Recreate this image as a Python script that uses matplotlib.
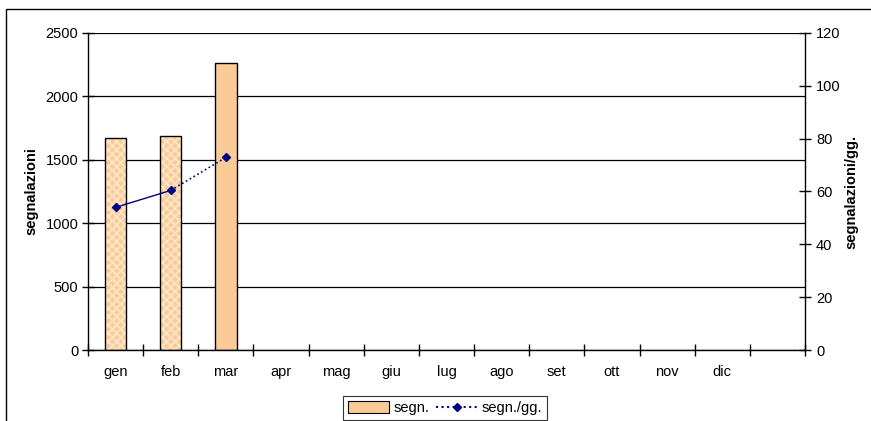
import matplotlib
matplotlib.use("Agg")
import matplotlib.pyplot as plt
from matplotlib.lines import Line2D
from matplotlib.patches import Patch, Rectangle

plt.rcParams['font.family'] = ['Liberation Sans', 'DejaVu Sans']
plt.rcParams['hatch.linewidth'] = 1.2

months = ['gen', 'feb', 'mar', 'apr', 'mag', 'giu', 'lug', 'ago', 'set', 'ott', 'nov', 'dic']
segnalazioni = [1675, 1690, 2260]
segn_per_giorno = [54.0, 60.4, 72.9]
hatched_months = 2  # first months drawn with the cross pattern

bar_color = '#FBCB97'
pattern_color = '#FFE6CC'
line_color = '#000080'
fs = 10.5

fig = plt.figure(figsize=(8.71, 4.21), dpi=100)
ax = fig.add_axes([88 / 871, 1 - 350 / 421, (805 - 88) / 871, (350 - 33) / 421])
ax2 = ax.twinx()

n_slots = len(months) + 1
xs = [i + 0.5 for i in range(len(segnalazioni))]
bw = 0.39

# bars: pattern fill first, then outline on top
for i, (x, v) in enumerate(zip(xs, segnalazioni)):
    if i < hatched_months:
        ax.bar(x, v, width=bw, color=bar_color, edgecolor=pattern_color, hatch='xxxx',
               linewidth=0, zorder=2)
    else:
        ax.bar(x, v, width=bw, color=bar_color, linewidth=0, zorder=2)
    ax.bar(x, v, width=bw, fill=False, edgecolor='black', linewidth=1.0, zorder=3)

ax.set_xlim(0, n_slots)
ax.set_ylim(0, 2500)
ax.set_yticks(range(0, 2501, 500))
ax.set_xticks(range(0, n_slots + 1))
ax.set_xticklabels([])
ax.set_xticks([i + 0.5 for i in range(len(months))], minor=True)
ax.set_xticklabels(months, minor=True)
ax.tick_params(axis='x', which='minor', length=0, pad=11, labelsize=fs)
ax.tick_params(axis='x', which='major', direction='inout', length=8, width=1)
ax.tick_params(axis='y', direction='inout', length=8, width=1, labelsize=fs, pad=3)
ax.grid(axis='y', color='black', linewidth=0.9, zorder=0)
ax.set_axisbelow(True)
for s in ['top', 'right']:
    ax.spines[s].set_visible(False)
ax.spines['left'].set_linewidth(1.0)
ax.spines['bottom'].set_linewidth(1.0)
ax.set_ylabel('segnalazioni', fontsize=fs, fontweight='bold', labelpad=5)

ax2.set_ylim(0, 120)
ax2.set_yticks(range(0, 121, 20))
ax2.tick_params(axis='y', direction='inout', length=8, width=1, labelsize=fs, pad=4)
for s in ['top', 'left', 'bottom']:
    ax2.spines[s].set_visible(False)
ax2.spines['right'].set_linewidth(1.0)
ax2.set_ylabel('segnalazioni/gg.', fontsize=fs, fontweight='bold', labelpad=3)

ax2.plot(xs[:2], segn_per_giorno[:2], '-', color=line_color, linewidth=1.0, zorder=4)
ax2.plot(xs[1:3], segn_per_giorno[1:3], ':', color=line_color, linewidth=1.2, zorder=4)
ax2.plot(xs, segn_per_giorno, 'D', color=line_color, markersize=4.5, linestyle='none', zorder=5)

handles = [
    Patch(facecolor=bar_color, edgecolor='black', linewidth=0.8),
    Line2D([], [], color=line_color, linestyle=':', linewidth=1.5, marker='D', markersize=4),
]
leg = fig.legend(handles, ['segn.', 'segn./gg.'], loc='upper center',
                 bbox_to_anchor=(445 / 871, 1 - 396 / 421), ncol=2, fontsize=fs,
                 frameon=True, fancybox=False, handlelength=2.8, handleheight=0.8,
                 columnspacing=0.5, handletextpad=0.3, borderpad=0.35,
                 borderaxespad=0)
leg.get_frame().set_edgecolor('black')
leg.get_frame().set_linewidth(0.8)

# chart area frame
fig.patches.append(Rectangle((6 / 871, -0.2), 1.2, 1.2 - 9 / 421, transform=fig.transFigure,
                             fill=False, edgecolor='black', linewidth=1.0, clip_on=False))

fig.savefig('out.png', dpi=100)
